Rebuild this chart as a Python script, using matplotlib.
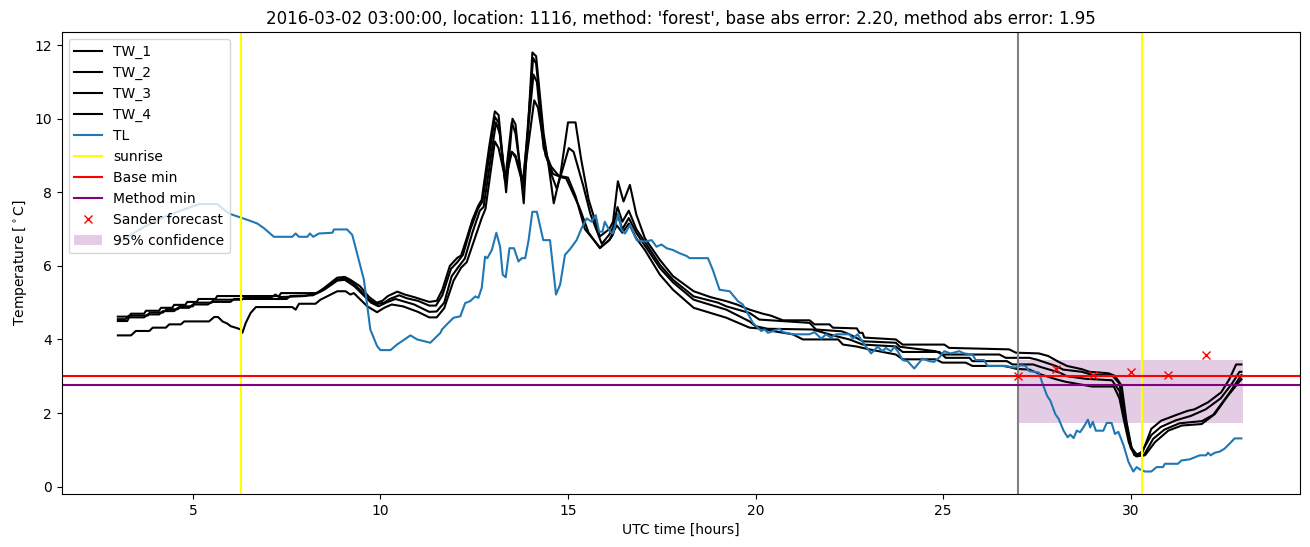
import matplotlib
matplotlib.use("Agg")
import matplotlib.pyplot as plt

# road surface temperatures (TW_1..TW_4) and air temperature (TL)
tw1_h = [3.0, 3.3, 3.35, 3.7, 3.75, 4.1, 4.15, 4.45, 4.5, 4.8, 4.85, 5.1, 5.15, 5.6, 5.65, 7.3, 7.35, 8.3,
         8.5, 8.85, 9.05, 9.2, 9.45, 9.7, 9.9, 10.05, 10.2, 10.45, 10.65, 10.9, 11.3, 11.5, 11.65, 11.85,
         12.05, 12.15, 12.3, 12.45, 12.6, 12.7, 12.9, 13.05, 13.15, 13.35, 13.52, 13.6, 13.82, 14.05, 14.15,
         14.35, 14.5, 14.62, 14.8, 15.0, 15.2, 15.35, 15.55, 15.85, 16.1, 16.2, 16.33, 16.48, 16.65, 16.82,
         17.05, 17.45, 17.8, 18.35, 18.8, 19.22, 19.5, 19.84, 20.19, 20.4, 20.73, 21.44, 21.57, 21.97, 22.06,
         22.7, 22.77, 22.85, 22.9, 23.74, 23.92, 25.03, 25.16, 26.76, 26.94, 27.55, 27.8, 28.08, 28.3, 28.7,
         28.9, 29.41, 29.58, 29.76, 29.89, 30.03, 30.16, 30.3, 30.55, 30.81, 31.17, 31.52, 31.7, 32.06, 32.41,
         32.63, 32.81, 32.95]
tw1_v = [4.62, 4.62, 4.70, 4.70, 4.78, 4.78, 4.86, 4.86, 4.94, 4.94, 5.02, 5.02, 5.10, 5.10, 5.18, 5.18, 5.26, 5.26,
         5.40, 5.68, 5.70, 5.62, 5.45, 5.15, 5.00, 5.05, 5.18, 5.30, 5.22, 5.15, 5.02, 5.05, 5.35, 6.00,
         6.22, 6.28, 6.75, 7.25, 7.62, 7.80, 9.25, 10.2, 10.1, 8.0, 10.0, 9.85, 7.7, 11.8, 11.7,
         9.6, 8.6, 7.7, 8.5, 9.9, 9.9, 8.9, 7.8, 6.8, 7.0, 7.2, 8.3, 7.75, 8.2, 7.4,
         6.75, 6.16, 5.72, 5.31, 5.15, 5.04, 4.95, 4.81, 4.70, 4.65, 4.52, 4.52, 4.41, 4.41, 4.32,
         4.30, 4.18, 4.18, 4.05, 4.0, 3.86, 3.86, 3.77, 3.73, 3.64, 3.62, 3.55, 3.39, 3.28, 3.19,
         3.12, 3.08, 3.01, 2.74, 1.75, 1.03, 0.88, 0.90, 1.57, 1.79, 1.93, 2.06, 2.10, 2.29, 2.56,
         2.92, 3.32, 3.32]

tw2_h = [3.0, 3.2, 3.3, 3.8, 3.85, 4.2, 4.3, 4.6, 4.65, 5.0, 5.05, 5.5, 5.55, 6.3, 6.4, 7.1, 7.2, 7.3, 8.0,
         8.4, 8.8, 9.05, 9.25, 9.45, 9.7, 9.9, 10.1, 10.25, 10.5, 10.7, 11.0, 11.3, 11.48, 11.65, 11.88,
         12.05, 12.2, 12.4, 12.6, 12.72, 12.9, 13.05, 13.15, 13.32, 13.5, 13.6, 13.8, 14.07, 14.15, 14.35,
         14.55, 14.7, 14.85, 15.02, 15.15, 15.4, 15.6, 15.9, 16.1, 16.2, 16.32, 16.45, 16.62, 16.82, 17.05,
         17.45, 17.8, 18.35, 19.0, 19.22, 19.84, 20.1, 21.44, 21.61, 22.3, 22.5, 22.86, 23.74, 23.85, 24.8,
         24.98, 26.5, 26.67, 27.3, 27.5, 28.0, 28.2, 28.7, 29.0, 29.5, 29.7, 29.87, 30.0, 30.15, 30.3,
         30.55, 30.8, 31.2, 31.6, 32.0, 32.4, 32.7, 32.9, 32.95]
tw2_v = [4.55, 4.55, 4.65, 4.65, 4.73, 4.73, 4.82, 4.82, 4.90, 4.90, 5.0, 5.0, 5.08, 5.08, 5.15, 5.15, 5.22, 5.15, 5.18,
         5.30, 5.62, 5.66, 5.55, 5.35, 5.08, 4.96, 5.0, 5.10, 5.20, 5.12, 5.05, 4.92, 4.92, 5.2, 5.92,
         6.1, 6.3, 7.0, 7.55, 7.75, 9.0, 10.05, 9.9, 8.3, 9.9, 9.6, 8.1, 11.65, 11.5, 9.4,
         8.5, 8.1, 8.6, 9.2, 9.1, 8.2, 7.4, 6.6, 6.85, 7.05, 7.6, 7.2, 7.5, 7.0, 6.65,
         6.03, 5.62, 5.17, 5.0, 4.90, 4.72, 4.54, 4.45, 4.27, 4.22, 4.14, 3.95, 3.91, 3.80, 3.68,
         3.59, 3.59, 3.50, 3.50, 3.45, 3.28, 3.18, 3.12, 3.03, 3.03, 2.8, 1.8, 1.1, 0.85, 0.95,
         1.40, 1.62, 1.80, 1.92, 2.10, 2.40, 2.8, 3.12, 3.12]

tw3_h = [3.0, 3.25, 3.3, 3.7, 3.8, 4.1, 4.2, 4.5, 4.6, 4.9, 5.0, 5.4, 5.5, 6.0, 6.1, 7.5, 7.6, 8.2, 8.5,
         8.85, 9.05, 9.3, 9.5, 9.75, 9.95, 10.15, 10.4, 10.6, 10.9, 11.3, 11.5, 11.7, 11.9, 12.1, 12.25,
         12.45, 12.65, 12.75, 12.95, 13.08, 13.18, 13.33, 13.5, 13.6, 13.8, 14.08, 14.17, 14.35, 14.55, 14.75,
         15.0, 15.2, 15.45, 15.85, 16.1, 16.2, 16.32, 16.45, 16.62, 16.82, 17.05, 17.45, 17.8, 18.35, 19.22,
         19.84, 20.0, 20.32, 21.52, 22.06, 22.5, 22.86, 23.74, 23.92, 24.9, 25.07, 25.7, 25.78, 26.7, 26.85,
         27.4, 27.6, 28.1, 28.3, 28.8, 29.5, 29.7, 29.85, 30.0, 30.15, 30.35, 30.6, 30.9, 31.3, 31.9,
         32.2, 32.6, 32.95]
tw3_v = [4.50, 4.50, 4.60, 4.60, 4.68, 4.68, 4.77, 4.77, 4.86, 4.86, 4.95, 4.95, 5.02, 5.02, 5.10, 5.10, 5.18, 5.20, 5.35,
         5.60, 5.62, 5.45, 5.25, 5.0, 4.90, 5.0, 5.10, 5.04, 4.95, 4.75, 4.76, 5.0, 5.72, 6.0, 6.2,
         6.9, 7.5, 7.6, 9.0, 9.9, 9.6, 8.3, 9.1, 9.0, 8.3, 11.2, 11.0, 9.2, 8.7, 8.45,
         8.4, 7.9, 7.0, 6.5, 6.7, 6.85, 7.4, 7.0, 7.3, 6.9, 6.55, 5.94, 5.55, 5.08, 4.81,
         4.49, 4.36, 4.29, 4.27, 4.11, 4.0, 3.86, 3.81, 3.66, 3.66, 3.50, 3.50, 3.41, 3.41, 3.32,
         3.32, 3.25, 3.10, 3.0, 2.93, 2.89, 2.6, 1.8, 1.05, 0.82, 0.85, 1.3, 1.55, 1.72, 1.78,
         1.95, 2.5, 3.03]

tw4_h = [3.0, 3.35, 3.48, 3.84, 3.93, 4.28, 4.37, 4.68, 4.77, 5.43, 5.57, 5.67, 5.79, 5.92, 6.01, 6.14, 6.28,
         6.32, 6.41, 6.54, 6.68, 7.65, 7.74, 7.83, 8.27, 8.4, 8.85, 9.07, 9.2, 9.29, 9.65, 9.91, 10.1,
         10.3, 10.6, 11.0, 11.3, 11.5, 11.7, 11.95, 12.15, 12.3, 12.5, 12.7, 12.8, 13.05, 13.15, 13.32, 13.5,
         13.6, 13.8, 14.1, 14.2, 14.4, 14.6, 14.85, 14.95, 15.3, 15.55, 15.85, 16.1, 16.3, 16.45, 16.62,
         16.82, 17.05, 17.45, 17.8, 18.35, 19.22, 19.84, 20.2, 20.5, 20.99, 21.26, 22.2, 22.33, 22.68, 23.03,
         23.74, 23.92, 24.8, 24.98, 25.6, 25.78, 26.6, 26.76, 26.95, 27.3, 27.6, 28.0, 28.26, 28.97, 29.55,
         29.7, 29.82, 29.95, 30.1, 30.38, 30.65, 31.0, 31.36, 31.89, 32.24, 32.59, 32.95]
tw4_v = [4.11, 4.11, 4.23, 4.23, 4.32, 4.32, 4.41, 4.41, 4.49, 4.49, 4.61, 4.61, 4.49, 4.43, 4.36, 4.32, 4.27,
         4.18, 4.45, 4.72, 4.88, 4.88, 4.81, 4.97, 4.97, 5.08, 5.31, 5.31, 5.22, 5.26, 4.90, 4.74, 4.86,
         4.95, 4.90, 4.75, 4.60, 4.60, 4.85, 5.6, 5.95, 6.1, 6.7, 7.3, 7.55, 9.38, 9.2, 8.4, 9.1,
         8.95, 8.2, 10.5, 10.3, 9.0, 8.5, 8.4, 8.38, 7.6, 6.9, 6.48, 6.7, 7.1, 6.9, 7.15,
         6.75, 6.43, 5.76, 5.35, 4.86, 4.59, 4.32, 4.29, 4.22, 4.14, 4.0, 4.0, 3.86, 3.81, 3.73,
         3.59, 3.46, 3.46, 3.37, 3.37, 3.28, 3.28, 3.25, 3.2, 3.18, 3.05, 2.92, 2.85, 2.72, 2.72,
         2.4, 1.8, 1.2, 0.85, 0.85, 1.21, 1.52, 1.66, 1.70, 1.97, 2.47, 2.92]

tl_h = [3.0, 3.26, 3.7, 4.15, 4.59, 5.17, 5.66, 5.74, 5.97, 6.28, 6.54, 6.72, 6.9, 7.16, 7.65, 7.74, 7.83,
        8.05, 8.12, 8.21, 8.36, 8.72, 8.76, 9.11, 9.25, 9.56, 9.73, 9.91, 10.0, 10.27, 10.44, 10.8, 10.98,
        11.33, 11.6, 11.64, 11.77, 11.95, 12.13, 12.26, 12.39, 12.53, 12.61, 12.7, 12.79, 12.85, 12.97, 13.09,
        13.19, 13.26, 13.34, 13.44, 13.56, 13.68, 13.77, 13.86, 13.95, 14.05, 14.17, 14.34, 14.52, 14.68,
        14.79, 14.92, 15.05, 15.23, 15.36, 15.5, 15.63, 15.74, 15.83, 15.92, 15.98, 16.12, 16.2, 16.34, 16.43,
        16.52, 16.65, 16.83, 17.05, 17.23, 17.36, 17.49, 17.63, 17.8, 17.98, 18.16, 18.24, 18.73, 18.86,
        19.04, 19.31, 19.53, 19.66, 19.93, 20.15, 20.24, 20.33, 20.64, 20.73, 20.99, 21.44, 21.57, 21.75,
        21.88, 22.01, 22.15, 22.5, 22.59, 22.72, 22.9, 23.08, 23.25, 23.39, 23.47, 23.61, 23.7, 23.79, 23.92,
        24.05, 24.23, 24.45, 24.63, 24.76, 24.89, 25.03, 25.2, 25.43, 25.56, 25.78, 25.87, 26.09, 26.18,
        26.67, 26.85, 26.94, 27.07, 27.2, 27.29, 27.55, 27.64, 27.77, 27.86, 27.99, 28.08, 28.21, 28.32,
        28.39, 28.48, 28.56, 28.65, 28.74, 28.86, 28.92, 28.99, 29.07, 29.27, 29.36, 29.49, 29.58, 29.67,
        29.81, 29.94, 30.07, 30.16, 30.24, 30.38, 30.55, 30.69, 30.86, 30.91, 31.26, 31.35, 31.57, 31.84,
        32.01, 32.06, 32.13, 32.24, 32.37, 32.5, 32.63, 32.77, 32.95]
tl_v = [6.61, 6.79, 7.06, 7.29, 7.47, 7.68, 7.68, 7.6, 7.42, 7.31, 7.22, 7.15, 7.02, 6.79, 6.79, 6.88, 6.79,
        6.79, 6.88, 6.79, 6.88, 6.90, 6.99, 6.99, 6.84, 5.62, 4.27, 3.82, 3.71, 3.71, 3.86, 4.11, 4.0,
        3.91, 4.18, 4.27, 4.41, 4.59, 4.63, 4.99, 5.04, 5.17, 5.13, 5.40, 6.25, 6.21, 6.43, 6.90,
        6.52, 5.76, 5.69, 6.48, 6.48, 6.12, 6.21, 6.21, 6.70, 7.47, 7.47, 6.70, 6.70, 5.22,
        5.49, 6.30, 6.45, 6.70, 7.02, 7.29, 7.20, 7.38, 6.93, 6.93, 7.20, 6.93, 6.88, 7.42, 6.97,
        6.88, 7.11, 6.70, 6.66, 6.70, 6.52, 6.58, 6.48, 6.43, 6.34, 6.27, 6.21, 6.21, 5.89,
        5.35, 5.31, 5.04, 4.95, 4.45, 4.23, 4.27, 4.18, 4.29, 4.20, 4.14, 4.14, 4.20, 4.02,
        4.14, 4.05, 4.14, 4.14, 4.02, 4.14, 3.86, 3.62, 3.80, 3.68, 3.77, 3.68, 3.80, 3.68, 3.44,
        3.41, 3.21, 3.48, 3.41, 3.39, 3.50, 3.68, 3.62, 3.68, 3.62, 3.59, 3.44, 3.44, 3.28,
        3.28, 3.24, 3.24, 3.30, 3.28, 3.14, 3.10, 2.83, 2.47, 2.33, 1.97, 1.84, 1.52, 1.34,
        1.41, 1.32, 1.52, 1.48, 1.61, 1.82, 1.61, 1.76, 1.52, 1.52, 1.73, 1.73, 1.43, 1.49,
        1.12, 0.67, 0.41, 0.53, 0.47, 0.41, 0.41, 0.53, 0.53, 0.62, 0.62, 0.71, 0.74, 0.85,
        0.85, 0.92, 0.85, 0.92, 0.95, 1.03, 1.16, 1.31, 1.31]

sunrise = [6.28, 30.3]
forecast_start = 27.0
base_min = 3.0
method_min = 2.75
sander_h = [27, 28, 29, 30, 31, 32]
sander_v = [3.0, 3.19, 3.04, 3.11, 3.03, 3.57]
conf_h = [27, 33]
conf_low = 1.72
conf_high = 3.43

fig = plt.figure(figsize=(13.1, 5.47), dpi=100)
ax = fig.add_subplot(111)
fig.subplots_adjust(left=0.047, right=0.992, top=0.941, bottom=0.097)

ax.plot(tw1_h, tw1_v, 'k-', label='TW_1')
ax.plot(tw2_h, tw2_v, 'k-', label='TW_2')
ax.plot(tw3_h, tw3_v, 'k-', label='TW_3')
ax.plot(tw4_h, tw4_v, 'k-', label='TW_4')
ax.plot(tl_h, tl_v, color='tab:blue', label='TL')

ax.axvline(sunrise[0], color='yellow', label='sunrise')
ax.axvline(sunrise[1], color='yellow')
ax.axvline(forecast_start, color='gray')
ax.axhline(base_min, color='red', label='Base min')
ax.axhline(method_min, color='purple', label='Method min')
ax.plot(sander_h, sander_v, 'rx', label='Sander forecast')
ax.fill_between(conf_h, conf_low, conf_high, color='purple', alpha=0.2, linewidth=0,
                label='95% confidence')

ax.set_ylim(-0.2, 12.35)
ax.set_xlabel('UTC time [hours]')
ax.set_ylabel('Temperature [$^\\circ$C]')
ax.set_title("2016-03-02 03:00:00, location: 1116, method: 'forest', base abs error: 2.20, method abs error: 1.95")
ax.legend(loc='upper left')

fig.savefig('out.png')
